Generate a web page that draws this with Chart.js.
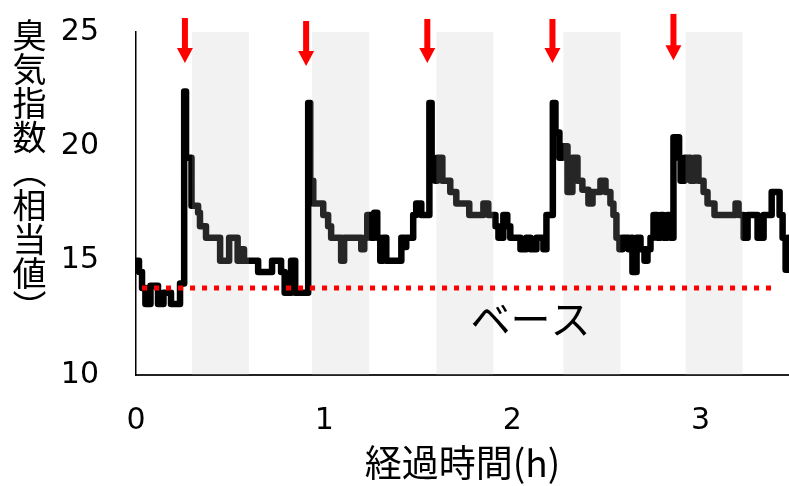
<!DOCTYPE html>
<html lang="ja">
<head>
  <meta charset="UTF-8">
  <title>臭気指数の推移</title>
  <script src="https://cdn.jsdelivr.net/npm/chart.js"></script>
  <style>
    body { margin: 0; background: #fff; }
    .wrap { position: relative; width: 789px; height: 486px; }
    .ytitle {
      position: absolute; left: 12px; top: 18px;
      writing-mode: vertical-rl;
      font: 34px "Noto Sans CJK JP", sans-serif; line-height: 34px;
      color: #000;
    }
  </style>
</head>
<body>
  <div class="wrap">
    <canvas id="odorChart" width="789" height="486"></canvas>
    <div class="ytitle">臭気指数（相当値）</div>
  </div>

  <script>
    // elapsed time (h) where the reading changes, and the reading from there on
    const times = [0.000, 0.016, 0.032, 0.050, 0.077, 0.117, 0.146, 0.186, 0.234, 0.256,
      0.266, 0.295, 0.330, 0.340, 0.372, 0.447, 0.495, 0.540, 0.559, 0.574,
      0.649, 0.723, 0.771, 0.790, 0.824, 0.846, 0.915, 0.926, 0.942, 0.995,
      1.021, 1.037, 1.090, 1.106, 1.197, 1.213, 1.229, 1.250, 1.266, 1.282,
      1.298, 1.314, 1.330, 1.410, 1.426, 1.436, 1.473, 1.489, 1.516, 1.559,
      1.571, 1.590, 1.601, 1.628, 1.670, 1.702, 1.771, 1.846, 1.872, 1.910,
      1.926, 1.952, 1.973, 1.989, 2.043, 2.074, 2.096, 2.128, 2.165, 2.181,
      2.215, 2.229, 2.250, 2.266, 2.293, 2.319, 2.346, 2.372, 2.404, 2.426,
      2.468, 2.495, 2.521, 2.537, 2.553, 2.569, 2.585, 2.617, 2.633, 2.638,
      2.660, 2.681, 2.702, 2.718, 2.734, 2.750, 2.771, 2.787, 2.803, 2.824,
      2.840, 2.856, 2.886, 2.894, 2.915, 2.947, 2.968, 2.989, 3.016, 3.037,
      3.074, 3.186, 3.202, 3.229, 3.250, 3.303, 3.335, 3.378, 3.420, 3.436,
      3.452, 3.468];
    const odorIndex = [15.0, 14.5, 13.8, 13.1, 13.9, 13.1, 13.6, 13.1, 14.0, 22.4,
      19.5, 17.4, 17.1, 16.5, 16.0, 15.0, 16.0, 15.0, 15.5, 15.0,
      14.5, 15.0, 14.5, 13.6, 15.0, 13.6, 21.9, 18.5, 17.5, 17.0,
      16.5, 16.0, 15.0, 16.0, 15.5, 16.0, 17.0, 16.0, 17.1, 16.0,
      15.0, 16.0, 15.0, 16.0, 15.6, 16.0, 17.0, 17.5, 17.0, 21.9,
      19.4, 18.5, 19.5, 18.5, 18.0, 17.5, 17.0, 17.5, 17.0, 16.5,
      16.0, 17.0, 16.5, 16.0, 15.5, 16.0, 15.5, 16.0, 15.5, 17.0,
      21.9, 20.6, 19.5, 20.0, 18.0, 19.5, 18.5, 18.1, 17.5, 18.0,
      18.5, 18.0, 17.5, 17.0, 16.0, 15.5, 16.0, 15.5, 16.0, 14.5,
      16.0, 15.5, 15.0, 15.5, 16.0, 17.0, 16.0, 17.0, 16.0, 17.0,
      16.0, 20.4, 19.5, 18.5, 19.5, 18.5, 19.5, 18.5, 18.0, 17.5,
      17.0, 17.5, 17.0, 16.0, 17.0, 16.0, 17.0, 18.0, 17.0, 16.0,
      14.6, 16.0];

    // base level (red dotted line)
    const baseTimes = [0.032, 3.41];
    const baseLevel = 13.8;

    // shaded periods
    const bandStart = [0.298, 0.936, 1.596, 2.271, 2.920];
    const bandEnd = [0.600, 1.239, 1.899, 2.574, 3.223];

    // red arrows
    const arrowTimes = [0.260, 0.904, 1.548, 2.213, 2.856];
    const arrowTop = [25.61, 25.48, 25.57, 25.57, 25.79];
    const arrowTip = [23.64, 23.51, 23.64, 23.64, 23.77];

    const yTicks = [10, 15, 20, 25];
    const xTicks = [0, 1, 2, 3];

    const baseLabel = 'ベース';
    const baseLabelAt = { t: 2.096, v: 12.45 };

    const jp = '"Noto Sans CJK JP", sans-serif';

    const overlay = {
      id: 'overlay',
      afterDatasetDraw(chart, args) {
        if (args.index !== 0) return;
        const { ctx, scales: { x, y } } = chart;
        const top = y.getPixelForValue(yTicks[yTicks.length - 1]);
        const bottom = y.getPixelForValue(yTicks[0]);
        ctx.save();
        ctx.fillStyle = 'rgba(190,190,190,0.2)';
        bandStart.forEach((s, i) => {
          const x0 = x.getPixelForValue(s);
          const x1 = x.getPixelForValue(bandEnd[i]);
          ctx.fillRect(x0, top, x1 - x0, bottom - top);
        });
        ctx.restore();
      },
      afterDraw(chart) {
        const { ctx, scales: { x, y } } = chart;
        ctx.save();
        ctx.fillStyle = '#ff0000';
        arrowTimes.forEach((t, i) => {
          const px = x.getPixelForValue(t);
          const y0 = y.getPixelForValue(arrowTop[i]);
          const y1 = y.getPixelForValue(arrowTip[i]);
          ctx.fillRect(px - 3, y0, 6, y1 - y0 - 14);
          ctx.beginPath();
          ctx.moveTo(px - 8, y1 - 15);
          ctx.lineTo(px + 8, y1 - 15);
          ctx.lineTo(px, y1);
          ctx.closePath();
          ctx.fill();
        });
        ctx.fillStyle = '#000';
        ctx.font = '40px ' + jp;
        ctx.textAlign = 'center';
        ctx.textBaseline = 'middle';
        ctx.fillText(baseLabel, x.getPixelForValue(baseLabelAt.t), y.getPixelForValue(baseLabelAt.v));
        ctx.restore();
      }
    };

    const ctx = document.getElementById('odorChart').getContext('2d');
    new Chart(ctx, {
      type: 'line',
      data: {
        datasets: [
          {
            label: '臭気指数',
            data: times.map((t, i) => ({ x: t, y: odorIndex[i] })),
            borderColor: '#000',
            borderWidth: 6.5,
            stepped: 'before',
            borderJoinStyle: 'round',
            borderCapStyle: 'round',
            pointRadius: 0,
            order: 1
          },
          {
            label: 'ベース',
            data: baseTimes.map(t => ({ x: t, y: baseLevel })),
            borderColor: '#ff0000',
            borderWidth: 5,
            borderDash: [5, 7],
            borderCapStyle: 'butt',
            pointRadius: 0,
            order: 0
          }
        ]
      },
      options: {
        responsive: false,
        animation: false,
        devicePixelRatio: 1,
        layout: { padding: { top: 32, right: 0, left: 0, bottom: 0 } },
        plugins: {
          legend: { display: false },
          tooltip: { enabled: false }
        },
        scales: {
          x: {
            type: 'linear',
            min: 0,
            max: 3.47,
            afterFit: s => { s.height = 111; s.paddingLeft = 0; s.paddingRight = 0; },
            afterBuildTicks: s => { s.ticks = xTicks.map(v => ({ value: v })); },
            grid: { display: false, drawTicks: false },
            border: { display: true, color: '#222', width: 2 },
            ticks: {
              padding: 28,
              color: '#000',
              font: { family: 'DejaVu Sans', size: 30 }
            },
            title: {
              display: true,
              text: '経過時間(h)',
              color: '#000',
              font: { family: '"Noto Sans CJK JP"', size: 37 },
              padding: { top: 0, bottom: 1 }
            }
          },
          y: {
            min: 10,
            max: 25,
            afterFit: s => { s.width = 136; s.paddingTop = 0; s.paddingBottom = 0; },
            afterBuildTicks: s => { s.ticks = yTicks.map(v => ({ value: v })); },
            grid: { display: false, drawTicks: false },
            border: { display: true, color: '#000', width: 1.5 },
            ticks: {
              padding: 37,
              color: '#000',
              font: { family: 'DejaVu Sans', size: 30 }
            }
          }
        }
      },
      plugins: [overlay]
    });
  </script>
</body>
</html>
